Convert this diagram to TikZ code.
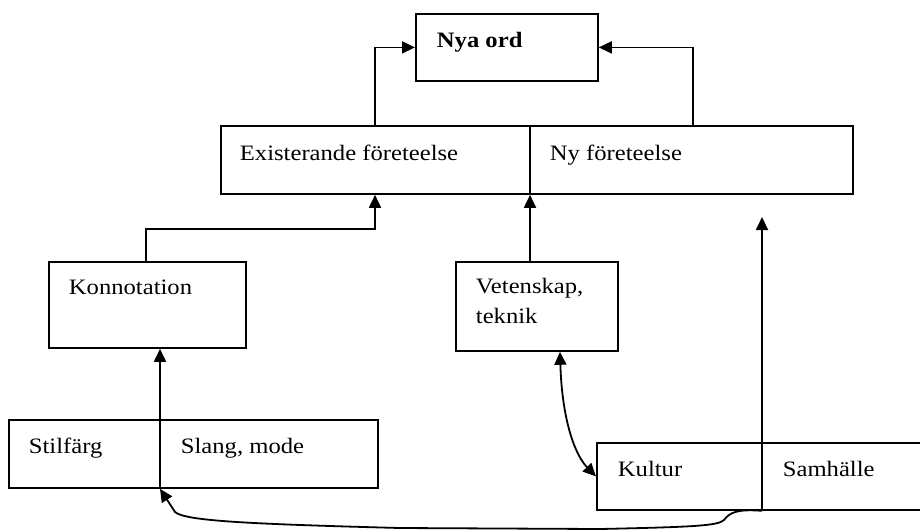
\documentclass[tikz,border=0pt]{standalone}
\usepackage{fontspec}
\setmainfont{Liberation Serif}[FakeStretch=1.12]
\usetikzlibrary{arrows.meta}
\begin{document}
\begin{tikzpicture}[x=0.5pt,y=-0.5pt,line width=0.9pt,
  box/.style={draw,rectangle,inner sep=0pt,anchor=north west},
  txt/.style={inner sep=0pt,anchor=base west,font=\fontsize{11}{13}\selectfont},
  arr/.style={-{Triangle[length=6.5pt,width=6pt]}},
  dbl/.style={{Triangle[length=6.5pt,width=6pt]}-{Triangle[length=6.5pt,width=6pt]}}]
\useasboundingbox (0,0) rectangle (920,531);
\clip (0,0) rectangle (920,531);

% boxes
\node[box,minimum width=91pt,minimum height=33.5pt] (nya) at (415,13) {};
\node[box,minimum width=316pt,minimum height=34pt] (mid) at (220,125) {};
\node[box,minimum width=98.5pt,minimum height=43pt] (konn) at (48,261) {};
\node[box,minimum width=81pt,minimum height=44.5pt] (vet) at (455,261) {};
\node[box,minimum width=184.5pt,minimum height=34pt] (stil) at (8,419) {};
\node[box,minimum width=165pt,minimum height=33.5pt] (kul) at (596,442) {};

% dividers inside the split boxes
\draw ([xshift=155pt]mid.north west) -- ([xshift=155pt]mid.south west);
\draw ([xshift=76pt]stil.north west) -- ([xshift=76pt]stil.south west);
\draw ([xshift=83pt]kul.north west) -- ([xshift=83pt]kul.south west);

% labels
\node[txt,font=\fontsize{11}{13}\selectfont\bfseries] (tnya) at (436,47) {Nya ord};
\node[txt] (texist) at (239,160) {Existerande företeelse};
\node[txt] (tny) at (549,160) {Ny företeelse};
\node[txt] (tkonn) at (68,294) {Konnotation};
\node[txt] (tvet) at (475,293) {Vetenskap,};
\node[txt] (ttek) at (475,323) {teknik};
\node[txt] (tstil) at (28,453) {Stilfärg};
\node[txt] (tslang) at (180,453) {Slang, mode};
\node[txt] (tkul) at (617,476) {Kultur};
\node[txt] (tsam) at (782,476) {Samhälle};

\coordinate (samtip) at (762,217);

% connectors
\draw[arr] ([xshift=77.5pt]mid.north west) |- (nya.west);
\draw[arr] ([xshift=-80.5pt]mid.north east) |- (nya.east);
\draw[arr] ([xshift=49pt]konn.north west) -- ++(0,-32) -| ([xshift=77.5pt]mid.south west);
\draw[arr] ([xshift=37.5pt]vet.north west) -- ([xshift=155pt]mid.south west);
\draw[arr] ([xshift=76pt]stil.south west) -- ([xshift=56pt]konn.south west);
\draw[arr] ([xshift=83pt]kul.south west) -- (samtip);
\draw[dbl] ([xshift=52.5pt]vet.south west) .. controls (562,420) and (575,455) .. (kul.west);
\draw[arr] ([xshift=83pt]kul.south west)
  .. controls (738,509) and (730,512) .. (724,520)
  .. controls (718,526) and (690,527) .. (600,529)
  -- (400,528)
  .. controls (250,524) and (185,521) .. (175,512)
  -- ([xshift=76pt]stil.south west);
\end{tikzpicture}
\end{document}
